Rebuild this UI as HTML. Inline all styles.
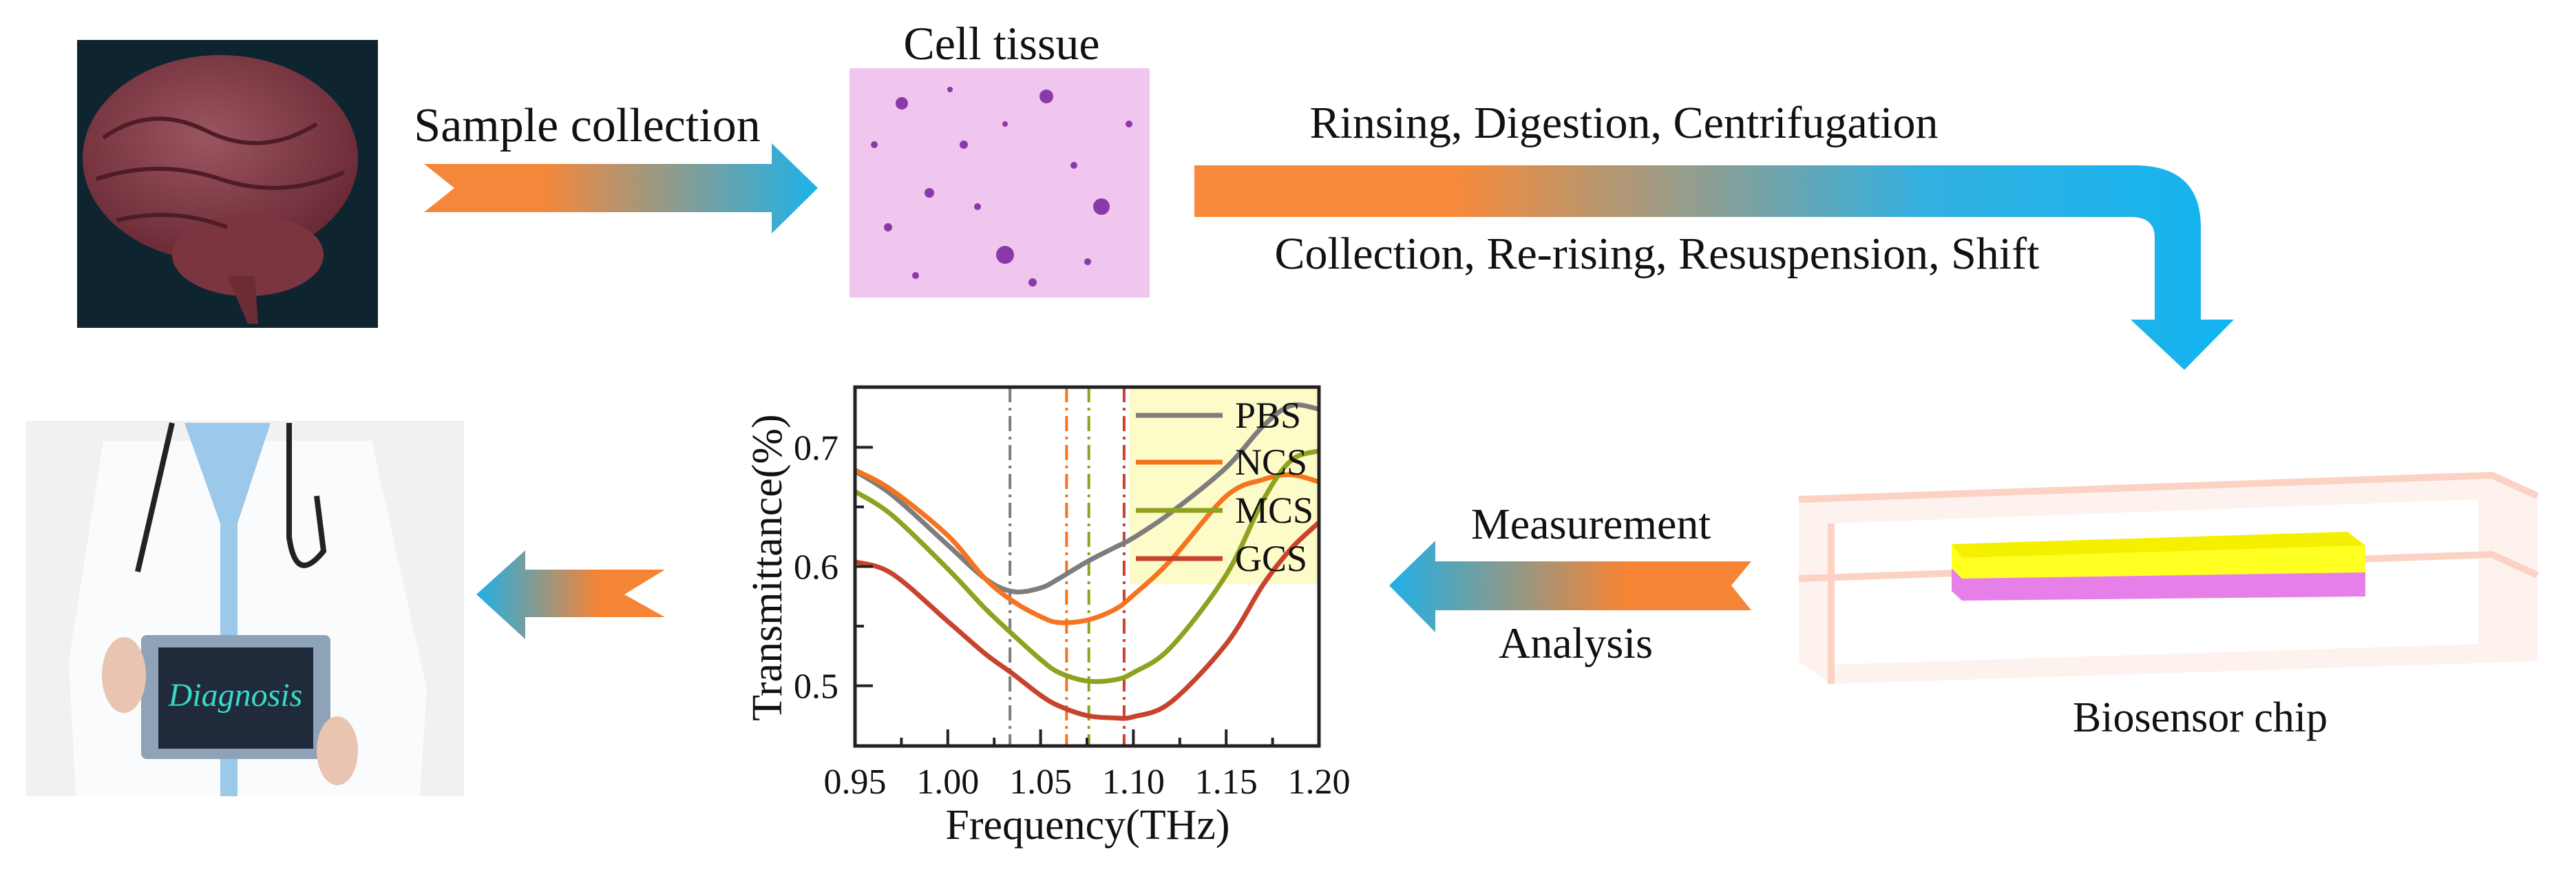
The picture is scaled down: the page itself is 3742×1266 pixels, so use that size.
<!DOCTYPE html>
<html><head><meta charset="utf-8"><style>
html,body{margin:0;padding:0;background:#fff;}
svg{display:block;}
text{font-family:"Liberation Serif",serif;fill:#111;}
</style></head><body>
<svg id="root" width="3742" height="1266" viewBox="0 0 3742 1266" xmlns="http://www.w3.org/2000/svg">
<defs>
<linearGradient id="gOB" x1="0" x2="1" y1="0" y2="0"><stop offset="0.3" stop-color="#f5873a"/><stop offset="1" stop-color="#1cb2ea"/></linearGradient>
<linearGradient id="gBig" x1="1735" x2="3245" y1="0" y2="0" gradientUnits="userSpaceOnUse"><stop offset="0.25" stop-color="#f68a3a"/><stop offset="0.7" stop-color="#33b0e0"/><stop offset="1" stop-color="#12b4f0"/></linearGradient>
<linearGradient id="gBO" x1="0" x2="1" y1="0" y2="0"><stop offset="0" stop-color="#1fb0e6"/><stop offset="0.65" stop-color="#f58435"/></linearGradient>
<radialGradient id="gBrain" cx="0.45" cy="0.4" r="0.6"><stop offset="0" stop-color="#9a5560"/><stop offset="1" stop-color="#6a2a35"/></radialGradient>
</defs>

<!-- Brain photo -->
<g>
<rect x="112" y="58" width="437" height="418" fill="#0e2530"/>
<ellipse cx="320" cy="230" rx="200" ry="150" fill="url(#gBrain)"/>
<ellipse cx="360" cy="370" rx="110" ry="60" fill="#7a3540"/>
<path d="M330 400 L360 470 L375 470 L370 400Z" fill="#6b2c36"/>
<path d="M150 200 Q220 150 300 190 T460 180 M140 260 Q230 230 320 260 T500 250 M170 320 Q250 300 330 330" stroke="#4e1c25" stroke-width="6" fill="none"/>
</g>

<!-- Sample collection -->
<text x="853" y="205" font-size="70" text-anchor="middle">Sample collection</text>
<path d="M616 238 L1121 238 L1121 208 L1188 273 L1121 339 L1121 308 L616 308 L660 273Z" fill="url(#gOB)"/>

<!-- Cell tissue -->
<text x="1455" y="86" font-size="68" text-anchor="middle">Cell tissue</text>
<g>
<rect x="1234" y="99" width="436" height="333" fill="#f0c6ee"/>
<g fill="#8a3aa8">
<circle cx="1310" cy="150" r="9"/><circle cx="1400" cy="210" r="6"/><circle cx="1520" cy="140" r="10"/><circle cx="1600" cy="300" r="12"/>
<circle cx="1290" cy="330" r="6"/><circle cx="1460" cy="370" r="13"/><circle cx="1560" cy="240" r="5"/><circle cx="1350" cy="280" r="7"/>
<circle cx="1640" cy="180" r="5"/><circle cx="1420" cy="300" r="5"/><circle cx="1500" cy="410" r="6"/><circle cx="1270" cy="210" r="5"/>
<circle cx="1380" cy="130" r="4"/><circle cx="1580" cy="380" r="5"/><circle cx="1460" cy="180" r="4"/><circle cx="1330" cy="400" r="5"/>
</g></g>

<!-- Big bent arrow -->
<text x="2359" y="200" font-size="66" text-anchor="middle">Rinsing, Digestion, Centrifugation</text>
<text x="2407" y="390" font-size="66" text-anchor="middle">Collection, Re-rising, Resuspension, Shift</text>
<path d="M1735 240 L3100 240 Q3197 240 3197 330 L3197 464 L3245 464 L3173 537 L3095 464 L3130 464 L3130 345 Q3130 315 3095 315 L1735 315Z" fill="url(#gBig)"/>

<!-- Biosensor chip -->
<g>
<path d="M2613 725 L3620 690 L3686 720 L3686 960 L2660 993 L2613 960Z" fill="#fde9e2" opacity="0.6"/>
<path d="M2660 760 L3600 725 L3600 935 L2660 965Z" fill="#fff"/>
<path d="M2613 725 L3620 690 L3686 720 M2613 840 L3620 805 L3686 835 M2660 760 L2660 993" stroke="#fbd2c4" stroke-width="10" fill="none"/>
<path d="M2835 790 L3410 772 L3436 792 L2850 810Z" fill="#f5f000"/>
<path d="M2835 790 L2850 810 L3436 792 L3436 831 L2850 840 L2835 825Z" fill="#ffff22"/>
<path d="M2835 825 L2850 840 L3436 831 L3436 866 L2850 872 L2835 858Z" fill="#e77fe8"/>
</g>
<text x="3196" y="1062" font-size="62" text-anchor="middle">Biosensor chip</text>

<!-- Measurement arrow -->
<text x="2311" y="782" font-size="64" text-anchor="middle">Measurement</text>
<text x="2289" y="955" font-size="64" text-anchor="middle">Analysis</text>
<path d="M2018 850 L2085 785 L2085 815 L2544 815 L2515 850 L2544 886 L2085 886 L2085 918Z" fill="url(#gBO)"/>

<!-- Diagnosis arrow -->
<path d="M692 863 L763 799 L763 827 L966 827 L907 863 L966 896 L763 896 L763 928Z" fill="url(#gBO)"/>

<!-- Doctor photo -->
<g>
<rect x="38" y="611" width="636" height="545" fill="#f1f1f1"/>
<path d="M150 640 L540 640 L620 1000 L610 1156 L110 1156 L100 960Z" fill="#fafbfc"/>
<path d="M268 614 L393 614 L345 760 L345 1156 L320 1156 L320 760Z" fill="#9cc8ea"/>
<path d="M250 614 L200 830 M420 614 L420 780 Q430 850 470 800 L460 720" stroke="#222" stroke-width="8" fill="none"/>
<rect x="205" y="922" width="275" height="180" rx="8" fill="#8ea3b8"/>
<rect x="230" y="940" width="225" height="147" fill="#1f2a3a"/>
<text x="342" y="1025" font-size="48" font-style="italic" text-anchor="middle" style="fill:#3ad8c8">Diagnosis</text>
<ellipse cx="180" cy="980" rx="32" ry="55" fill="#e9c4b0"/>
<ellipse cx="490" cy="1090" rx="30" ry="50" fill="#e9c4b0"/>
</g>

<!-- Chart -->
<g id="chart"></g>
</svg>
<script>
const freqs = [0.95,0.97,1.00,1.02,1.035,1.05,1.06,1.075,1.09,1.10,1.12,1.15,1.17,1.185,1.20];
const pbs = [0.680,0.660,0.618,0.590,0.579,0.582,0.590,0.604,0.616,0.624,0.645,0.683,0.718,0.735,0.732];
const ncs = [0.681,0.664,0.626,0.590,0.571,0.558,0.553,0.555,0.564,0.576,0.605,0.659,0.673,0.677,0.671];
const mcs = [0.663,0.643,0.598,0.565,0.543,0.522,0.511,0.504,0.505,0.511,0.532,0.593,0.656,0.689,0.697];
const gcs = [0.604,0.594,0.554,0.527,0.510,0.492,0.483,0.475,0.473,0.474,0.486,0.535,0.585,0.615,0.637];
const seriesNames = ["PBS","NCS","MCS","GCS"];
const seriesColors = ["#7d7d7d","#f5741f","#8fa21f","#c8432d"];
const resonance = [1.0335,1.064,1.076,1.095];
const xTicks = [0.95,1.00,1.05,1.10,1.15,1.20];
const xTickLabels = ["0.95","1.00","1.05","1.10","1.15","1.20"];
const yTicks = [0.5,0.6,0.7];
const yTickLabels = ["0.5","0.6","0.7"];

const L=1242,R=1916,T=562,B=1083;
const X0=0.95,X1=1.20,Y0=0.4495,Y1=0.7505;
const sx=v=>L+(v-X0)/(X1-X0)*(R-L);
const sy=v=>B-(v-Y0)/(Y1-Y0)*(B-T);
const NS="http://www.w3.org/2000/svg";
const g=document.getElementById('chart');
function mk(tag,attrs,parent){const e=document.createElementNS(NS,tag);for(const k in attrs)e.setAttribute(k,attrs[k]);(parent||g).appendChild(e);return e;}

let e=mk('rect',{x:1641,y:T,width:R-1641,height:848-T,fill:'#fdfbc8'});



resonance.forEach((f,i)=>{
  const ln=mk('line',{x1:sx(f),x2:sx(f),y1:T,y2:B,stroke:seriesColors[i],'stroke-width':4,'stroke-dasharray':'22 8 4 8'});
  
  
});

function pathFor(xs,ys){
  const p=xs.map((x,i)=>[sx(x),sy(ys[i])]);
  let d='M'+p[0][0]+' '+p[0][1];
  for(let i=0;i<p.length-1;i++){
    const p0=p[Math.max(0,i-1)],p1=p[i],p2=p[i+1],p3=p[Math.min(p.length-1,i+2)];
    const c1=[p1[0]+(p2[0]-p0[0])/6,p1[1]+(p2[1]-p0[1])/6];
    const c2=[p2[0]-(p3[0]-p1[0])/6,p2[1]-(p3[1]-p1[1])/6];
    d+=` C${c1[0]} ${c1[1]} ${c2[0]} ${c2[1]} ${p2[0]} ${p2[1]}`;
  }
  return d;
}
[pbs,ncs,mcs,gcs].forEach((s,i)=>{
  const c=mk('path',{d:pathFor(freqs,s),fill:'none',stroke:seriesColors[i],'stroke-width':7});
  
  
});

const legY=[603,671,741,811];
seriesNames.forEach((n,i)=>{
  const l=mk('line',{x1:1650,x2:1776,y1:legY[i],y2:legY[i],stroke:seriesColors[i],'stroke-width':7});
  
  
  const t=mk('text',{x:1794,y:legY[i]+18,'font-size':54});
  t.textContent=n;
  
  
});

const frame=mk('rect',{x:L,y:T,width:R-L,height:B-T,fill:'none',stroke:'#222','stroke-width':5});



for(let k=0;k<=10;k++){
  const v=X0+k*0.025;
  const len=k%2===0?24:12;
  const tk=mk('line',{x1:sx(v),x2:sx(v),y1:B,y2:B-len,stroke:'#222','stroke-width':4});
  
  
}
xTicks.forEach((v,i)=>{
  const t=mk('text',{x:sx(v),y:1152,'font-size':52,'text-anchor':'middle',fill:'#333'});
  t.textContent=xTickLabels[i];
  
  
});
for(let k=0;k<=4;k++){
  const v=0.5+k*0.05;
  const len=k%2===0?26:13;
  const tk=mk('line',{x1:L,x2:L+len,y1:sy(v),y2:sy(v),stroke:'#222','stroke-width':4});
  
  
}
yTicks.forEach((v,i)=>{
  const t=mk('text',{x:1218,y:sy(v)+18,'font-size':52,'text-anchor':'end',fill:'#333'});
  t.textContent=yTickLabels[i];
  
  
});
const xt=mk('text',{x:1580,y:1218,'font-size':62,'text-anchor':'middle'});
xt.textContent='Frequency(THz)';


const yt=mk('text',{x:0,y:0,'font-size':62,'text-anchor':'middle',transform:'translate(1135,824) rotate(-90)'});
yt.textContent='Transmittance(%)';


</script>
</body></html>
